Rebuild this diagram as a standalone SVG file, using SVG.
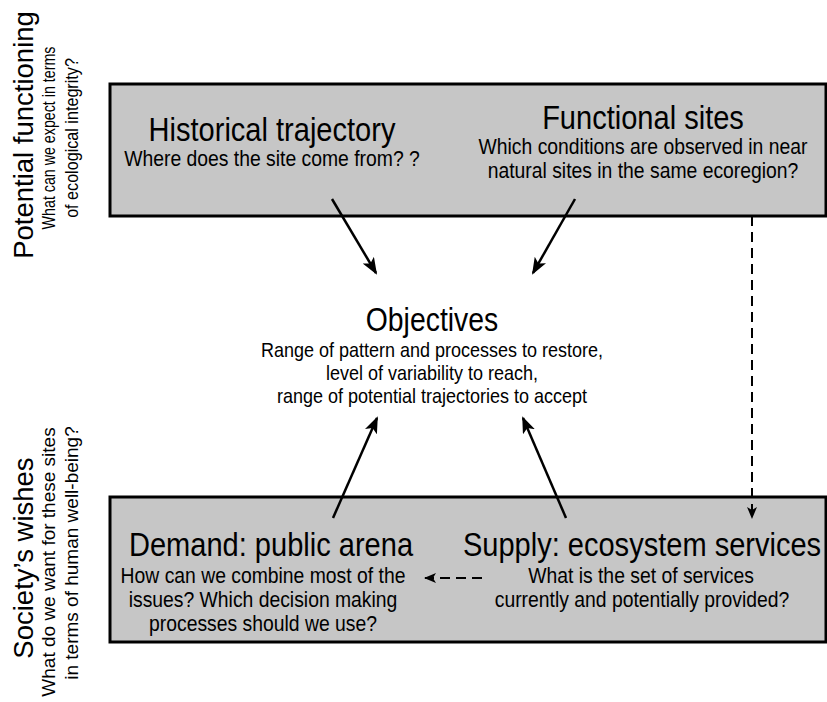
<svg xmlns="http://www.w3.org/2000/svg" width="827" height="702" viewBox="0 0 827 702">
<style>
text{font-family:"Liberation Sans",Arial,sans-serif;fill:#000;text-anchor:middle}
.t{font-size:33px}
.s{font-size:21.5px}
.o{font-size:20px}
.lt{font-size:27.5px}
.ls{font-size:19px}
.box{fill:#c6c6c6;stroke:#000;stroke-width:3}
.a{stroke:#000;stroke-width:2.5;fill:none}
.d{stroke:#000;stroke-width:2;fill:none;stroke-dasharray:10 6}
</style>
<defs>
<marker id="ah" viewBox="0 0 17 13" refX="15" refY="6.5" markerWidth="17" markerHeight="13" markerUnits="userSpaceOnUse" orient="auto">
<path d="M0,0 L17,6.5 L0,13 L4,6.5 z" fill="#000"/>
</marker>
<marker id="ahs" viewBox="0 0 12 10" refX="11" refY="5" markerWidth="12" markerHeight="10" markerUnits="userSpaceOnUse" orient="auto">
<path d="M0,0 L12,5 L0,10 L3,5 z" fill="#000"/>
</marker>
</defs>
<g id="side-top">
<text class="lt" transform="translate(33,135) rotate(-90)">Potential functioning</text>
<text class="ls" transform="translate(55,138) rotate(-90) scale(0.75,1)">What can we expect in terms</text>
<text class="ls" transform="translate(78,138) rotate(-90) scale(0.85,1)">of ecological integrity?</text>
</g>
<g id="side-bottom">
<text class="lt" transform="translate(33,558) rotate(-90)">Society’s wishes</text>
<text class="ls" transform="translate(55,562) rotate(-90)">What do we want for these sites</text>
<text class="ls" transform="translate(78,553) rotate(-90)">in terms of human well-being?</text>
</g>
<g id="top-box">
<rect class="box" x="110" y="84" width="716" height="132"/>
</g>
<g id="historical">
<text class="t" transform="translate(272,141) scale(0.88,1)">Historical trajectory</text>
<text class="s" transform="translate(272,166) scale(0.9,1)">Where does the site come from? ?</text>
</g>
<g id="functional">
<text class="t" transform="translate(643,129) scale(0.88,1)">Functional sites</text>
<text class="s" transform="translate(643,154) scale(0.9,1)">Which conditions are observed in near</text>
<text class="s" transform="translate(643,178) scale(0.9,1)">natural sites in the same ecoregion?</text>
</g>
<g id="objectives">
<text class="t" transform="translate(432,331) scale(0.86,1)">Objectives</text>
<text class="o" transform="translate(432,357) scale(0.9,1)">Range of pattern and processes to restore,</text>
<text class="o" transform="translate(432,380) scale(0.9,1)">level of variability to reach,</text>
<text class="o" transform="translate(432,403) scale(0.9,1)">range of potential trajectories to accept</text>
</g>
<g id="bottom-box">
<rect class="box" x="110" y="497" width="716" height="145"/>
</g>
<g id="demand">
<text class="t" transform="translate(271,556) scale(0.88,1)">Demand: public arena</text>
<text class="s" transform="translate(263,583) scale(0.9,1)">How can we combine most of the</text>
<text class="s" transform="translate(263,607) scale(0.9,1)">issues? Which decision making</text>
<text class="s" transform="translate(263,631) scale(0.9,1)">processes should we use?</text>
</g>
<g id="supply">
<text class="t" transform="translate(642,556) scale(0.88,1)">Supply: ecosystem services</text>
<text class="s" transform="translate(641,583) scale(0.9,1)">What is the set of services</text>
<text class="s" transform="translate(642,607) scale(0.9,1)">currently and potentially provided?</text>
</g>
<g id="connectors">
<line class="a" x1="332" y1="199" x2="376" y2="273" marker-end="url(#ah)"/>
<line class="a" x1="575" y1="199" x2="533" y2="273" marker-end="url(#ah)"/>
<line class="a" x1="333" y1="518" x2="377" y2="418" marker-end="url(#ah)"/>
<line class="a" x1="566" y1="518" x2="523" y2="418" marker-end="url(#ah)"/>
<line class="d" x1="752" y1="216" x2="752" y2="518" marker-end="url(#ahs)"/>
<line class="d" x1="482" y1="578" x2="425" y2="578" marker-end="url(#ahs)"/>
</g>
</svg>
